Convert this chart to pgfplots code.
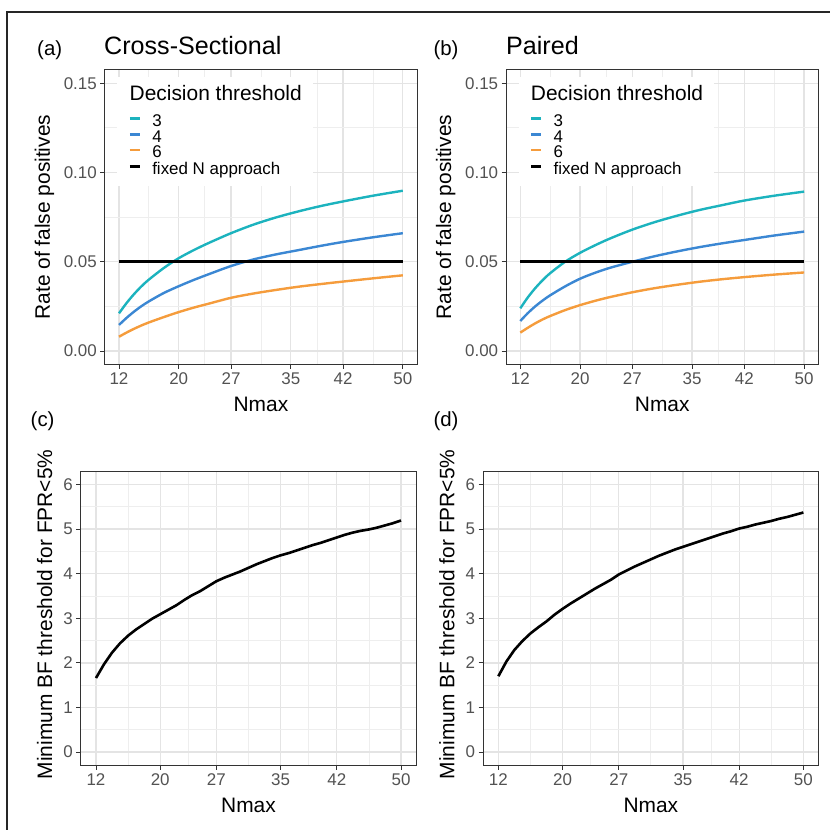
\documentclass[border=0pt]{standalone}
\usepackage{pgfplots}
\pgfplotsset{compat=1.18}
\usepackage{pgfplotstable}
\usepackage{fontspec}
\setmainfont{Liberation Sans}

\definecolor{c3}{HTML}{1CB3BE}
\definecolor{c4}{HTML}{3B87D3}
\definecolor{c6}{HTML}{F59C3C}
\definecolor{gridmaj}{HTML}{E4E4E4}
\definecolor{gridmin}{HTML}{EEEEEE}

% false positive rates, cross-sectional design
\pgfplotstableread{
N  r3     r4     r6
12 0.0211 0.0146 0.0080
13 0.0268 0.0185 0.0103
14 0.0318 0.0220 0.0124
15 0.0362 0.0251 0.0143
16 0.0400 0.0278 0.0160
18 0.0465 0.0325 0.0190
20 0.0520 0.0363 0.0218
22 0.0565 0.0398 0.0243
24 0.0605 0.0430 0.0265
27 0.0660 0.0476 0.0298
30 0.0708 0.0513 0.0322
33 0.0748 0.0541 0.0342
36 0.0782 0.0565 0.0360
39 0.0812 0.0589 0.0375
42 0.0838 0.0611 0.0389
46 0.0870 0.0637 0.0407
50 0.0898 0.0660 0.0424
}\crossfp

% false positive rates, paired design
\pgfplotstableread{
N  r3     r4     r6
12 0.0239 0.0168 0.0103
13 0.0300 0.0212 0.0130
14 0.0352 0.0250 0.0155
15 0.0397 0.0283 0.0177
16 0.0436 0.0312 0.0196
18 0.0500 0.0362 0.0229
20 0.0550 0.0405 0.0257
22 0.0592 0.0438 0.0281
24 0.0630 0.0466 0.0302
27 0.0680 0.0500 0.0329
30 0.0722 0.0531 0.0352
33 0.0758 0.0558 0.0371
36 0.0790 0.0582 0.0388
39 0.0817 0.0603 0.0402
42 0.0843 0.0622 0.0414
46 0.0870 0.0647 0.0428
50 0.0893 0.0669 0.0440
}\pairedfp

% minimum BF threshold for FPR < 5%
\pgfplotstableread{
N  cross paired
12 1.66 1.70
13 1.97 2.03
14 2.23 2.29
15 2.44 2.49
16 2.61 2.66
17 2.75 2.80
18 2.87 2.93
19 2.99 3.08
20 3.09 3.21
21 3.19 3.33
22 3.29 3.44
23 3.41 3.55
24 3.52 3.66
25 3.61 3.76
26 3.72 3.86
27 3.83 3.98
28 3.91 4.07
29 3.98 4.16
30 4.05 4.24
31 4.13 4.32
32 4.21 4.40
33 4.28 4.47
34 4.35 4.54
35 4.41 4.60
36 4.46 4.66
37 4.52 4.72
38 4.58 4.78
39 4.64 4.84
40 4.69 4.90
41 4.75 4.95
42 4.81 5.01
43 4.87 5.05
44 4.92 5.10
45 4.96 5.14
46 4.99 5.18
47 5.03 5.23
48 5.08 5.27
49 5.13 5.32
50 5.19 5.37
}\bfmin

\pgfplotsset{
  panel/.style={
    scale only axis,
    xmin=10.1, xmax=51.9,
    xtick={12,20,27,35,42,50}, xticklabels={12,20,27,35,42,50},
    minor xtick={16,23.5,31,38.5,46},
    grid=both,
    major grid style={gridmaj, line width=1.3bp},
    minor grid style={gridmin, line width=0.8bp},
    axis line style={black!80, line width=0.9bp},
    tick align=outside, xtick pos=bottom, ytick pos=left,
    major tick length=4.5bp, minor tick length=0bp,
    tick style={black!80, line width=0.9bp},
    tick label style={font=\fontsize{17}{17}\selectfont, text=black!68},
    /pgf/number format/assume math mode=true,
    xlabel={Nmax},
    label style={font=\fontsize{21}{21}\selectfont},
    xlabel style={at={(axis description cs:0.5,-0.159)}, anchor=base},
  },
  fppanel/.style={
    panel, width=312.2bp, height=294.5bp,
    ymin=-0.0075, ymax=0.1575,
    ytick={0,0.05,0.10,0.15}, yticklabels={0.00,0.05,0.10,0.15},
    minor ytick={0.025,0.075,0.125},
    ylabel={Rate of false positives},
    ylabel style={at={(axis description cs:-0.176,0.5)}, anchor=base},
    legend style={at={(axis description cs:0.04,0.9752)}, anchor=north west,
      draw=none, fill=white, inner xsep=11bp, inner ysep=8bp,
      font=\fontsize{17}{17}\selectfont,
      nodes={inner sep=0bp, text depth=4bp},
      /tikz/every odd column/.append style={column sep=11bp}},
    legend cell align=left,
    legend image code/.code={\draw[##1] (0bp,3.8bp) -- (10bp,3.8bp);},
  },
  bfpanel/.style={
    panel, width=335.5bp, height=294.5bp,
    ymin=-0.3, ymax=6.3,
    ytick={0,1,2,3,4,5,6}, yticklabels={0,1,2,3,4,5,6},
    minor ytick={0.5,1.5,2.5,3.5,4.5,5.5},
    ylabel={Minimum BF threshold for FPR<5\%},
    ylabel style={at={(axis description cs:-0.0856,0.513)}, anchor=base},
  },
}

\begin{document}
\begin{tikzpicture}[x=1bp, y=1bp]
\useasboundingbox (0,0) rectangle (830,830);
\draw[line width=1.6bp, black!85] (7,0) -- (7,818) -- (830,818);

% (a)
\begin{axis}[fppanel, at={(104.8bp,465.6bp)}, anchor=south west]
  \addlegendimage{empty legend}
  \addlegendentry[font=\fontsize{21}{21}\selectfont, text depth=14bp]{\hspace{-22.6bp}Decision threshold}
  \addplot[c3, line width=2.4bp, smooth, tension=0.5] table[x=N, y=r3] {\crossfp};
  \addlegendentry{3}
  \addplot[c4, line width=2.4bp, smooth, tension=0.5] table[x=N, y=r4] {\crossfp};
  \addlegendentry{4}
  \addplot[c6, line width=2.4bp, smooth, tension=0.5] table[x=N, y=r6] {\crossfp};
  \addlegendentry{6}
  \addplot[black, line width=2.8bp] coordinates {(12,0.05) (50,0.05)};
  \addlegendentry{fixed N approach}
\end{axis}

% (b)
\begin{axis}[fppanel, at={(506.1bp,465.6bp)}, anchor=south west]
  \addlegendimage{empty legend}
  \addlegendentry[font=\fontsize{21}{21}\selectfont, text depth=14bp]{\hspace{-22.6bp}Decision threshold}
  \addplot[c3, line width=2.4bp, smooth, tension=0.5] table[x=N, y=r3] {\pairedfp};
  \addlegendentry{3}
  \addplot[c4, line width=2.4bp, smooth, tension=0.5] table[x=N, y=r4] {\pairedfp};
  \addlegendentry{4}
  \addplot[c6, line width=2.4bp, smooth, tension=0.5] table[x=N, y=r6] {\pairedfp};
  \addlegendentry{6}
  \addplot[black, line width=2.8bp] coordinates {(12,0.05) (50,0.05)};
  \addlegendentry{fixed N approach}
\end{axis}

% (c)
\begin{axis}[bfpanel, at={(80.75bp,64.5bp)}, anchor=south west]
  \addplot[black, line width=2.6bp] table[x=N, y=cross] {\bfmin};
\end{axis}

% (d)
\begin{axis}[bfpanel, at={(483.1bp,64.5bp)}, anchor=south west]
  \addplot[black, line width=2.6bp] table[x=N, y=paired] {\bfmin};
\end{axis}

\node[anchor=base west, inner sep=0, font=\fontsize{20.5}{20.5}\selectfont] at (37,774) {(a)};
\node[anchor=base west, inner sep=0, font=\fontsize{25.2}{25.2}\selectfont] at (104,775) {Cross-Sectional};
\node[anchor=base west, inner sep=0, font=\fontsize{20.5}{20.5}\selectfont] at (433.3,774) {(b)};
\node[anchor=base west, inner sep=0, font=\fontsize{25.2}{25.2}\selectfont] at (506,775) {Paired};
\node[anchor=base west, inner sep=0, font=\fontsize{20.5}{20.5}\selectfont] at (30.5,403) {(c)};
\node[anchor=base west, inner sep=0, font=\fontsize{20.5}{20.5}\selectfont] at (433.3,403) {(d)};
\end{tikzpicture}
\end{document}
